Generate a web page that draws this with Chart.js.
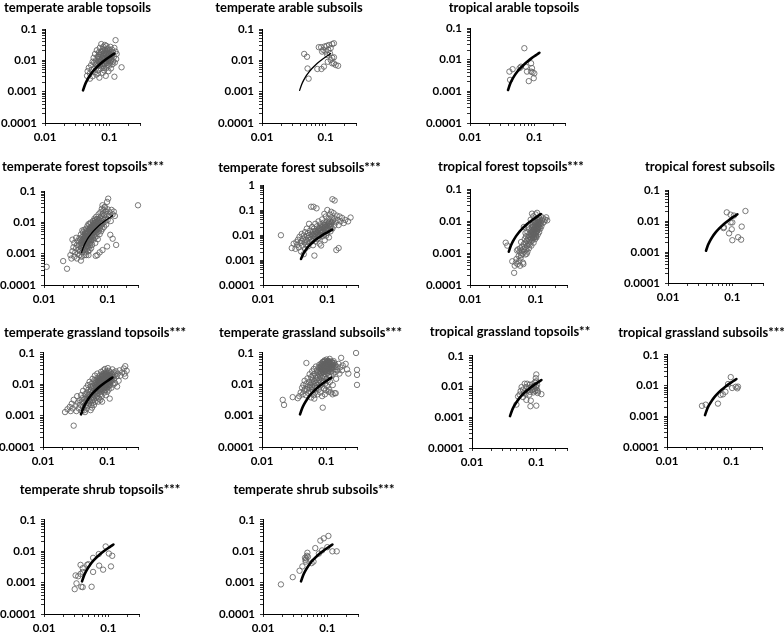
<!DOCTYPE html>
<html><head><meta charset="utf-8">
<script src="https://cdn.jsdelivr.net/npm/chart.js@4.4.0/dist/chart.umd.min.js"></script>
<style>
html,body{margin:0;padding:0;background:#fff;overflow:hidden;width:784px;height:637px;}
#wrap{position:relative;width:784px;height:637px;overflow:hidden;background:#fff;}
#wrap canvas{position:absolute;}
</style></head><body><div id="wrap"></div>
<script>
// ---------- data (x, y) ----------
const tempArableTop = [[.045,.0032],[.046,.0045],[.048,.0058],[.05,.0026],[.05,.0038],[.052,.007],[.053,.0049],[.055,.0031],[.055,.009],[.057,.012],[.058,.0055],[.06,.0042],[.06,.016],[.061,.0075],[.062,.01],[.063,.0035],[.064,.021],[.065,.0065],[.066,.013],[.067,.0048],[.068,.0095],[.069,.018],[.07,.0028],[.07,.011],[.071,.025],[.072,.0072],[.073,.015],[.074,.0055],[.075,.033],[.076,.0088],[.077,.012],[.078,.02],[.079,.004],[.08,.0065],[.08,.014],[.081,.027],[.082,.0105],[.083,.0048],[.084,.017],[.085,.0078],[.086,.022],[.087,.012],[.088,.0032],[.089,.0093],[.09,.015],[.09,.029],[.091,.0058],[.092,.011],[.093,.019],[.094,.0072],[.095,.0135],[.096,.024],[.097,.0045],[.098,.0098],[.099,.016],[.1,.021],[.1,.0068],[.102,.012],[.103,.0085],[.104,.027],[.105,.0175],[.106,.0055],[.108,.0105],[.11,.014],[.11,.022],[.112,.0075],[.114,.018],[.115,.0092],[.118,.013],[.12,.025],[.12,.003],[.122,.0085],[.125,.019],[.125,.044],[.128,.011],[.13,.016],[.155,.006],[.058,.0085],[.066,.0038],[.085,.031],
[.065,.0082],[.068,.0125],[.071,.0068],[.073,.0098],[.075,.0145],[.077,.0075],[.079,.0112],[.081,.0165],[.082,.0078],[.084,.0125],[.086,.0092],[.088,.0155],[.089,.0115],[.091,.0082],[.092,.0175],[.094,.0125],[.096,.0095],[.097,.0148],[.099,.011],[.101,.0165],[.103,.0125],[.105,.0092],[.107,.0145],[.069,.0155],[.074,.0185],[.079,.0225],[.087,.0198],[.093,.0225],[.072,.0088],[.083,.0058]];
const tempArableSub = [[.046,.016],[.051,.013],[.052,.0055],[.054,.0026],[.074,.0053],[.086,.0053],[.094,.0063],[.108,.009],[.12,.0103],[.127,.008],[.135,.008],[.144,.0071],[.157,.0067],[.135,.0125],[.127,.012],[.078,.0263],[.085,.0263],[.092,.0215],[.096,.0276],[.104,.029],[.113,.031],[.12,.0245],[.127,.033],[.135,.035],[.11,.0215],[.1,.019],[.088,.019],[.117,.0168],[.106,.015]];
const tropArableTop = [[.07,.023],[.041,.0042],[.046,.005],[.042,.0023],[.059,.0054],[.062,.006],[.074,.006],[.077,.0042],[.089,.0077],[.092,.0054],[.089,.0042],[.094,.004],[.098,.0026],[.082,.0021],[.1,.0037]];
const tempForestTop = [[.026,.0009],[.027,.0007],[.028,.0028],[.028,.0012],[.029,.0016],[.03,.0008],[.03,.0022],[.031,.0011],[.032,.0032],[.032,.0015],[.033,.0007],[.033,.0019],[.034,.0025],[.034,.001],[.035,.0013],
[.036,.0018],[.036,.0009],[.037,.0028],[.037,.0012],[.038,.0021],[.038,.0041],[.039,.0015],[.039,.0008],[.04,.0026],[.04,.0034],[.04,.0011],[.041,.0019],[.041,.0048],[.042,.0013],[.042,.0024],[.042,.0031],[.043,.0009],[.043,.0017],[.043,.0058],[.044,.0022],[.044,.0037],[.044,.0014],[.045,.0028],[.045,.0045],[.045,.0011],[.036,.0031],[.038,.0006],[.04,.0055],[.041,.0016],[.043,.0027],
[.046,.0019],[.046,.0033],[.046,.0062],[.047,.0014],[.047,.0025],[.047,.0041],[.048,.0029],[.048,.0017],[.048,.0075],[.049,.0036],[.049,.0022],[.049,.0012],[.05,.0048],[.05,.0027],[.05,.0016],[.05,.0088],[.051,.0033],[.051,.0021],[.051,.0057],[.052,.0039],[.052,.0013],[.052,.0026],[.053,.0068],[.053,.0045],[.053,.0019],[.054,.0031],[.054,.0098],[.054,.0024],[.055,.0052],[.055,.0036],[.055,.0015],[.048,.0048],[.052,.0085],[.05,.0009],[.046,.0009],
[.056,.0042],[.056,.0027],[.057,.0072],[.057,.0019],[.058,.0058],[.058,.0035],[.059,.011],[.059,.0046],[.06,.0028],[.06,.0065],[.061,.0082],[.061,.0039],[.062,.0052],[.062,.013],[.063,.0033],[.063,.0095],[.064,.0061],[.064,.0022],[.065,.0075],[.065,.0044],[.066,.015],[.066,.0056],[.067,.0105],[.067,.0036],[.068,.0068],[.068,.0088],[.069,.0048],[.069,.0125],[.07,.0062],[.07,.0029],
[.071,.0095],[.072,.0073],[.072,.018],[.073,.0055],[.074,.012],[.074,.0085],[.075,.0042],[.076,.014],[.076,.0065],[.077,.021],[.078,.0098],[.078,.0078],[.079,.0052],[.08,.016],[.08,.011],[.081,.027],[.082,.0088],[.083,.013],[.083,.0062],[.084,.019],[.085,.0095],[.086,.024],[.087,.012],[.088,.0072],[.089,.017],
[.09,.031],[.091,.0105],[.093,.014],[.094,.022],[.095,.0085],[.097,.018],[.098,.045],[.1,.012],[.1,.026],[.102,.057],[.105,.016],[.108,.021],[.112,.011],[.115,.025],[.12,.018],[.125,.022],[.13,.016],
[.3,.035],[.011,.00038],[.02,.00058],[.023,.00033],[.083,.035],[.09,.03],[.136,.0019],[.12,.003],[.098,.0017],[.083,.0013],[.069,.0009],[.11,.004],[.065,.00085],[.075,.0011],
[.038,.0016],[.039,.0025],[.04,.0019],[.041,.0029],[.042,.0021],[.042,.0038],[.043,.0023],[.044,.0031],[.044,.0045],[.045,.0021],[.045,.0035],[.046,.0026],[.046,.0042],[.047,.0031],[.047,.0052],[.048,.0024],[.048,.0038],[.049,.0045],[.049,.0029],[.05,.0034],[.05,.0058],[.051,.0041],[.051,.0027],[.052,.0049],[.052,.0033],[.053,.0056],[.053,.0038],[.054,.0042],[.054,.0065],[.055,.0047],[.055,.0028],[.056,.0058],[.056,.0075],[.057,.0051],[.057,.0038],[.058,.0068],[.058,.0085],[.059,.0055],[.06,.0048],[.06,.0095],[.061,.0066],[.062,.0078],[.063,.0058],[.063,.0115],[.064,.0082],[.065,.0098],[.066,.0072],[.067,.0125],[.068,.0092],[.07,.0108]];
const tempForestSub = [[.019,.0098],[.028,.003],[.03,.0045],[.032,.0028],[.033,.0052],[.034,.004],[.035,.0065],[.036,.0032],[.037,.0085],[.038,.0048],[.039,.0022],[.04,.0058],[.04,.011],[.041,.0038],[.042,.0072],[.043,.0017],[.043,.0095],[.044,.0051],[.045,.0028],[.045,.013],[.046,.0064],[.047,.0042],[.048,.0089],[.048,.018],[.049,.0055],[.05,.0035],[.05,.012],[.051,.0076],[.052,.0098],[.052,.028],[.053,.0047],[.054,.015],[.055,.0066],[.055,.0082],[.056,.135],[.057,.011],[.058,.0058],[.058,.021],[.059,.0093],[.06,.0039],[.06,.014],[.061,.135],[.062,.0072],[.062,.018],[.063,.0015],[.064,.011],[.065,.0085],[.065,.028],[.066,.0055],[.067,.013],[.068,.117],[.068,.0095],[.069,.022],[.07,.0068],[.071,.016],[.072,.011],[.073,.035],[.074,.0078],[.075,.014],[.076,.0045],[.077,.019],[.078,.0098],[.079,.027],[.08,.012],[.08,.0038],[.082,.016],[.083,.042],[.084,.0088],[.085,.022],[.086,.013],[.088,.031],[.089,.0105],[.09,.018],[.091,.0062],[.092,.025],[.093,.014],[.095,.055],[.096,.0095],[.097,.019],[.098,.034],[.1,.1],[.1,.012],[.102,.028],[.103,.016],[.105,.045],[.106,.008],[.108,.022],[.11,.065],[.11,.035],[.112,.014],[.115,.028],[.117,.05],[.12,.27],[.12,.018],[.122,.038],[.125,.075],[.128,.024],[.13,.24],[.13,.045],[.135,.032],[.138,.0025],[.14,.06],[.145,.04],[.15,.003],[.15,.025],[.155,.055],[.16,.035],[.17,.048],[.18,.03],[.19,.04],[.21,.035],[.23,.05],[.115,.085],[.09,.07],
[.06,.0105],[.063,.0088],[.066,.0145],[.069,.012],[.071,.0098],[.074,.018],[.076,.013],[.079,.0155],[.081,.0215],[.084,.0125],[.087,.018],[.09,.026],[.093,.021],[.096,.015],[.099,.024],[.102,.019],[.106,.031],[.109,.026],[.113,.022],[.118,.032]];
const tropForestTop = [[.035,.0021],[.037,.0017],[.044,.00055],[.047,.00024],[.048,.0004],[.05,.0005],[.051,.00065],[.052,.0012],[.053,.00045],[.054,.0013],[.055,.0008],[.056,.00055],[.057,.0011],[.058,.0014],[.059,.0007],[.06,.00085],[.06,.0022],[.061,.0012],[.062,.0016],[.063,.00095],[.064,.0005],[.065,.0013],[.066,.0019],[.066,.0065],[.067,.0011],[.068,.0027],[.069,.0015],[.07,.0009],[.07,.0021],[.071,.0033],[.072,.0013],[.073,.0024],[.074,.0017],[.075,.0045],[.075,.0011],[.076,.0028],[.077,.0019],[.078,.0036],[.079,.0014],[.08,.0055],[.08,.0025],[.081,.0018],[.082,.0032],[.083,.0022],[.084,.0042],[.084,.011],[.085,.0028],[.086,.0017],[.087,.0065],[.088,.0035],[.089,.0025],[.09,.0048],[.09,.0075],[.091,.0029],[.092,.0038],[.093,.0021],[.094,.0055],[.095,.0095],[.095,.0031],[.096,.0045],[.097,.0068],[.098,.0027],[.099,.0036],[.1,.0058],[.1,.016],[.101,.0042],[.102,.0082],[.103,.0031],[.104,.0062],[.105,.0048],[.106,.011],[.107,.0072],[.108,.0038],[.109,.0055],[.11,.0095],[.111,.0065],[.112,.013],[.113,.0045],[.115,.0078],[.116,.011],[.118,.0058],[.12,.0088],[.12,.014],[.122,.0068],[.125,.0105],[.128,.0085],[.13,.012],[.135,.0095],[.14,.011],[.145,.013],[.15,.0105],[.088,.017],[.078,.0062],[.07,.0042],[.092,.014],[.105,.018],[.065,.00045],[.073,.00095],[.058,.0004],
[.085,.0038],[.086,.0052],[.087,.0029],[.088,.0045],[.089,.0062],[.09,.0035],[.091,.0052],[.092,.0068],[.093,.0042],[.094,.0031],[.095,.0058],[.096,.0075],[.097,.0039],[.098,.0052],[.099,.0085],[.1,.0045],[.1,.0068],[.101,.0032],[.102,.0058],[.103,.0095],[.104,.0048],[.105,.0072],[.106,.0058],[.107,.0088],[.108,.0065],[.109,.0105],[.11,.0078],[.112,.0088],[.114,.0065],[.116,.0095]];
const tropForestSub = [[.082,.019],[.16,.021],[.094,.016],[.106,.015],[.094,.009],[.1,.009],[.074,.0063],[.073,.0059],[.098,.0054],[.089,.004],[.14,.0066],[.1,.0024],[.123,.003],[.137,.0025]];
const tempGrassTop = [[.022,.0013],[.024,.0016],[.026,.0019],[.027,.0014],[.028,.0024],[.029,.0017],[.03,.0032],[.03,.00048],[.032,.0021],[.033,.0014],[.034,.0042],[.035,.0026],
[.036,.0017],[.037,.0031],[.038,.0022],[.039,.0045],[.04,.0014],[.04,.0028],[.041,.0036],[.042,.0019],[.042,.0062],[.043,.0025],[.044,.0033],[.044,.0015],[.045,.0048],[.046,.0029],[.046,.0021],[.047,.0078],[.047,.0038],[.048,.0017],[.048,.0055],[.049,.0026],[.049,.0035],[.05,.0045],[.05,.0095],[.05,.0021],[.045,.0013],
[.051,.0032],[.051,.0068],[.052,.0025],[.052,.0048],[.053,.0039],[.053,.012],[.054,.0058],[.054,.0029],[.055,.0085],[.055,.0036],[.056,.0022],[.056,.0065],[.057,.0045],[.057,.0105],[.058,.0031],[.058,.0075],[.059,.0052],[.059,.015],[.06,.0038],[.06,.0088],[.06,.0026],[.061,.0062],[.061,.0115],[.062,.0045],[.062,.0033],[.063,.0078],[.063,.0135],[.064,.0055],[.064,.0042],[.064,.019],[.065,.0095],[.065,.0028],[.058,.0018],[.062,.0022],[.055,.0015],
[.066,.0068],[.066,.0115],[.067,.0048],[.067,.0085],[.068,.0037],[.068,.014],[.069,.0058],[.069,.0098],[.07,.0075],[.07,.022],[.07,.0042],[.071,.0125],[.071,.0062],[.072,.0088],[.072,.0165],[.073,.0052],[.073,.0105],[.074,.0035],[.074,.0072],[.075,.013],[.075,.0095],[.076,.0062],[.076,.019],[.077,.0082],[.077,.0115],[.078,.0048],[.078,.015],[.079,.0098],[.079,.0068],[.08,.025],[.08,.0125],[.08,.0058],[.081,.0088],[.081,.0175],[.082,.0105],[.082,.0042],[.083,.014],[.083,.0075],[.084,.021],[.084,.0098],[.085,.0065],[.085,.012],[.072,.0028],[.078,.0032],[.083,.0028],
[.086,.016],[.086,.0085],[.087,.011],[.087,.028],[.088,.0072],[.088,.0135],[.089,.019],[.089,.0095],[.09,.0055],[.09,.012],[.09,.023],[.091,.0082],[.091,.015],[.092,.0105],[.092,.031],[.093,.0065],[.093,.0175],[.094,.0125],[.094,.0088],[.095,.021],[.095,.0045],[.096,.014],[.096,.0098],[.097,.026],[.097,.0115],[.098,.0075],[.098,.017],[.099,.013],[.1,.0095],[.1,.022],[.1,.0058],[.101,.015],[.102,.0115],[.102,.033],[.103,.0085],[.104,.019],[.104,.013],[.105,.0068],[.106,.016],[.106,.027],[.107,.0105],[.108,.014],[.109,.0035],[.11,.018],[.11,.0092],
[.112,.024],[.113,.0125],[.115,.016],[.116,.0078],[.118,.021],[.12,.013],[.12,.03],[.122,.0175],[.125,.0098],[.126,.024],[.128,.015],[.13,.02],[.132,.011],[.135,.026],[.14,.018],[.142,.0085],[.145,.022],[.15,.013],[.155,.028],[.16,.019],[.17,.024],[.18,.032],[.185,.022],[.19,.038],[.2,.027],[.19,.018],
[.07,.0105],[.071,.0085],[.072,.0125],[.073,.0075],[.074,.0115],[.075,.0088],[.075,.0155],[.076,.0105],[.077,.0068],[.077,.0135],[.078,.0115],[.079,.0088],[.08,.0145],[.08,.0098],[.081,.0072],[.082,.0125],[.082,.0185],[.083,.0105],[.084,.0082],[.084,.0148],[.085,.0115],[.086,.0178],[.086,.0098],[.087,.0135],[.088,.0088],[.088,.0208],[.089,.0118],[.09,.0152],[.09,.0078],[.091,.0128],[.092,.0185],[.092,.0092],[.093,.0142],[.094,.0108],[.094,.0225],[.095,.0125],[.096,.0165],[.096,.0082],[.097,.0138],[.098,.0112],[.098,.0195],[.099,.0155],[.1,.0122],[.1,.0175],[.101,.0098],[.102,.0142],[.103,.0205],[.104,.0115],[.105,.0158],[.106,.0128],[.107,.0185],[.108,.0098],[.109,.0145],[.11,.0122],[.111,.0205],[.113,.0158],[.115,.0135],[.117,.0182],[.065,.0058],[.068,.0078]];
const tempGrassSub = [[.021,.0032],[.022,.0022],[.03,.0039],[.036,.0036],[.038,.0042],[.04,.0055],[.042,.0078],[.043,.0048],[.044,.0095],[.045,.0062],[.046,.013],[.047,.0072],[.048,.0045],[.049,.048],[.049,.0105],[.05,.0068],[.051,.0155],[.052,.0085],[.053,.0052],[.054,.012],[.055,.0075],[.055,.021],[.056,.0095],[.057,.0058],[.058,.017],[.058,.0038],[.059,.011],[.06,.026],[.06,.0082],[.061,.014],[.062,.0065],[.062,.019],[.063,.0105],[.064,.0045],[.064,.031],[.065,.0125],[.066,.0088],[.066,.022],[.067,.0055],[.068,.016],[.068,.011],[.069,.037],[.07,.0075],[.07,.019],[.071,.0135],[.072,.028],[.072,.0095],[.073,.0048],[.074,.0165],[.074,.024],[.075,.0112],[.076,.034],[.076,.0068],[.077,.021],[.078,.014],[.078,.042],[.079,.0085],[.08,.027],[.08,.018],[.081,.0055],[.082,.031],[.082,.012],[.083,.046],[.084,.022],[.084,.0098],[.085,.036],[.086,.016],[.086,.0042],[.087,.028],[.088,.0018],[.088,.052],[.089,.019],[.09,.039],[.09,.0125],[.091,.024],[.092,.045],[.092,.0075],[.093,.032],[.094,.017],[.094,.058],[.095,.026],[.096,.041],[.096,.0105],[.097,.021],[.098,.035],[.098,.0065],[.099,.048],[.1,.028],[.1,.015],[.101,.062],[.102,.038],[.102,.0088],[.103,.023],[.104,.044],[.104,.032],[.105,.0135],[.106,.055],[.107,.027],[.108,.036],[.108,.0058],[.109,.049],[.11,.019],[.11,.041],[.112,.031],[.113,.065],[.114,.012],[.115,.038],[.116,.025],[.118,.046],[.118,.0055],[.12,.033],[.12,.018],[.122,.052],[.124,.028],[.125,.04],[.126,.0095],[.128,.022],[.13,.035],[.132,.048],[.135,.03],[.135,.0052],[.138,.042],[.14,.025],[.142,.015],[.145,.036],[.15,.028],[.155,.045],[.16,.022],[.165,.035],[.17,.07],[.175,.028],[.18,.04],[.2,.045],[.21,.03],[.22,.022],[.29,.1],[.3,.029],[.3,.02],[.3,.0096],[.065,.0035],[.095,.0048],[.125,.0048],[.14,.0052],[.11,.0068],
[.08,.035],[.082,.024],[.083,.039],[.085,.029],[.086,.045],[.087,.034],[.088,.025],[.089,.041],[.09,.031],[.091,.052],[.092,.036],[.093,.027],[.094,.044],[.095,.034],[.096,.056],[.097,.038],[.098,.029],[.099,.042],[.1,.051],[.1,.034],[.101,.025],[.102,.046],[.103,.037],[.104,.055],[.105,.031],[.106,.042],[.107,.048],[.108,.028],[.109,.039],[.11,.052],[.111,.034],[.112,.045],[.114,.038],[.116,.055],[.118,.032],[.12,.043],[.122,.036],[.125,.048],[.128,.041],[.13,.055]];
const tropGrassTop = [[.049,.0026],[.052,.0048],[.055,.0055],[.057,.0072],[.059,.0097],[.062,.008],[.062,.0046],[.064,.0062],[.066,.0125],[.068,.0058],[.07,.0037],[.07,.0098],[.072,.0125],[.074,.0075],[.076,.0088],[.078,.0055],[.079,.0115],[.08,.0068],[.082,.0035],[.081,.0023],[.084,.0097],[.085,.0078],[.087,.012],[.089,.008],[.09,.0065],[.092,.0105],[.094,.0085],[.095,.014],[.096,.0072],[.098,.019],[.1,.025],[.1,.015],[.1,.0024],[.1,.0095],[.102,.0078],[.103,.0115],[.105,.0062],[.106,.007],[.12,.0057],[.098,.0105]];
const tropGrassSub = [[.035,.0022],[.04,.0024],[.062,.0026],[.068,.005],[.074,.0052],[.081,.0063],[.089,.0113],[.098,.019],[.103,.0084],[.117,.0092],[.124,.0082],[.127,.0093]];
const tempShrubTop = [[.091,.0143],[.071,.0082],[.102,.0085],[.115,.0072],[.058,.0062],[.049,.0039],[.047,.0037],[.037,.0037],[.04,.0029],[.072,.0035],[.083,.0026],[.11,.0033],[.058,.0022],[.031,.0017],[.034,.0016],[.037,.0019],[.04,.0022],[.032,.00095],[.038,.00074],[.04,.00072],[.03,.00062],[.055,.00074]];
const tempShrubSub = [[.019,.00088],[.029,.0015],[.037,.0024],[.041,.0033],[.046,.0053],[.047,.0059],[.048,.0072],[.049,.009],[.046,.0047],[.05,.0067],[.045,.0062],[.057,.0042],[.061,.0047],[.065,.0127],[.078,.022],[.088,.026],[.104,.031],[.083,.0107],[.1,.0136],[.12,.01],[.14,.01],[.074,.0085]];

// fitted curve drawn in every panel
const curveX = [0.039, 0.042, 0.045, 0.05, 0.055, 0.06, 0.07, 0.08, 0.09, 0.1, 0.11, 0.12];
const curveY = [0.0011, 0.0017, 0.0023, 0.0033, 0.0043, 0.0053, 0.0072, 0.0091, 0.011, 0.0128, 0.0146, 0.0165];

// tick labels
const xTickValues = [0.01, 0.1];
const xTickLabels = ['0.01', '0.1'];
const yTickValues = [0.0001, 0.001, 0.01, 0.1];
const yTickLabels = ['0.0001', '0.001', '0.01', '0.1'];
const yTickValuesWide = [0.0001, 0.001, 0.01, 0.1, 1];
const yTickLabelsWide = ['0.0001', '0.001', '0.01', '0.1', '1'];

const titles = ['temperate arable topsoils','temperate arable subsoils','tropical arable topsoils',
  'temperate forest topsoils***','temperate forest subsoils***','tropical forest topsoils***','tropical forest subsoils',
  'temperate grassland topsoils***','temperate grassland subsoils***','tropical grassland topsoils**','tropical grassland subsoils***',
  'temperate shrub topsoils***','temperate shrub subsoils***'];
const series = [tempArableTop,tempArableSub,tropArableTop,tempForestTop,tempForestSub,tropForestTop,tropForestSub,
  tempGrassTop,tempGrassSub,tropGrassTop,tropGrassSub,tempShrubTop,tempShrubSub];

// layout (pixels): title centre, y-axis x, plot top/bottom, plot right, curve width, wide y range
const layout = [
  {cx:77, cy:8, ax:45, top:29, bot:123, right:140, lw:2.6},
  {cx:289, cy:8, ax:262, top:29, bot:123, right:356, lw:1.3},
  {cx:514, cy:8, ax:470, top:28, bot:123, right:565, lw:2.6},
  {cx:83, cy:167, ax:44, top:191, bot:285, right:138, lw:1.3},
  {cx:299, cy:168, ax:263, top:185, bot:285, right:358, lw:2.6, wide:true},
  {cx:511, cy:167, ax:470, top:189, bot:285, right:567, lw:2.6},
  {cx:710, cy:167, ax:668, top:190, bot:283, right:763, lw:2.6},
  {cx:95, cy:333, ax:43, top:353, bot:447, right:138, lw:2.6},
  {cx:310, cy:333, ax:262, top:353, bot:447, right:357, lw:2.6},
  {cx:510, cy:332, ax:472, top:356, bot:448, right:567, lw:2.6},
  {cx:701, cy:333, ax:667, top:355, bot:447, right:762, lw:2.6},
  {cx:100, cy:490, ax:44, top:520, bot:614, right:139, lw:2.6},
  {cx:314, cy:490, ax:263, top:520, bot:614, right:358, lw:2.6}
];

const TITLE_FONT = {family:'Lato', size:13, weight:'bold', lineHeight:1.2};
const TICK_FONT = {family:'Lato', size:11.5, weight:'bold'};

function logTicks(min, max) {
  const out = [];
  for (let d = min; d <= max * 1.0001; d *= 10) {
    for (let k = 1; k <= 9; k++) { const v = k * d; if (v <= max * 1.0001) out.push(v); }
  }
  return out;
}
function labelFor(vals, labels) {
  return function(value) {
    for (let i = 0; i < vals.length; i++) if (Math.abs(value / vals[i] - 1) < 1e-6) return labels[i];
    return '';
  };
}

const mctx = document.createElement('canvas').getContext('2d');
mctx.font = 'bold 13px Lato';

const wrap = document.getElementById('wrap');
layout.forEach((p, i) => {
  const tw = mctx.measureText(titles[i]).width;
  const half = Math.max(p.cx - (p.ax - 44), p.right + 6 - p.cx, tw / 2 + 4);
  const L = Math.round(p.cx - half), W = Math.round(2 * half);
  const T = p.cy - 7.8;
  const Ti = Math.floor(T);
  const padB = p.top - (Ti + 15.6 + (T - Ti));
  const H = Math.round(p.bot - Ti + 24);
  const yW = p.ax - L, rW = L + W - p.right;
  const cv = document.createElement('canvas');
  cv.width = W; cv.height = H;
  cv.style.left = L + 'px'; cv.style.top = Ti + 'px';
  cv.style.width = W + 'px'; cv.style.height = H + 'px';
  wrap.appendChild(cv);
  const ymax = p.wide ? 1 : 0.1;
  const yv = p.wide ? yTickValuesWide : yTickValues;
  const yl = p.wide ? yTickLabelsWide : yTickLabels;
  new Chart(cv, {
    type: 'scatter',
    data: {datasets: [
      {data: curveX.map((x, k) => ({x: x, y: curveY[k]})), showLine: true, borderColor: '#000', borderWidth: p.lw,
       pointRadius: 0, fill: false, tension: 0.2, borderCapStyle: 'round', clip: false},
      {data: series[i].map(a => ({x: a[0], y: a[1]})), showLine: false, pointRadius: 2.7, pointStyle: 'circle',
       pointBorderColor: '#626262', pointBackgroundColor: 'rgba(0,0,0,0)', pointBorderWidth: 0.85, clip: false}
    ]},
    options: {
      responsive: false, animation: false, devicePixelRatio: 1,
      layout: {padding: 0},
      plugins: {
        legend: {display: false}, tooltip: {enabled: false},
        title: {display: true, text: titles[i], align: 'center', color: '#000', font: TITLE_FONT,
                padding: {top: T - Ti, bottom: padB}}
      },
      scales: {
        x: {type: 'logarithmic', position: 'bottom', min: 0.01, max: 0.3,
            afterBuildTicks: s => { s.ticks = logTicks(0.01, 0.3).map(v => ({value: v})); },
            afterFit: s => { s.height = 24; },
            grid: {display: true, drawOnChartArea: false, drawTicks: true, tickLength: 3, color: '#333', lineWidth: 1},
            border: {display: true, color: '#000', width: 1},
            ticks: {autoSkip: false, maxRotation: 0, minRotation: 0, color: '#000', font: TICK_FONT, padding: 4,
                    callback: labelFor(xTickValues, xTickLabels)}},
        y: {type: 'logarithmic', position: 'left', min: 0.0001, max: ymax,
            afterBuildTicks: s => { s.ticks = logTicks(0.0001, ymax).map(v => ({value: v})); },
            afterFit: s => { s.width = yW; },
            grid: {display: true, drawOnChartArea: false, drawTicks: true, tickLength: 3, color: '#333', lineWidth: 1},
            border: {display: true, color: '#000', width: 1},
            ticks: {autoSkip: false, color: '#000', font: TICK_FONT, padding: 5,
                    callback: labelFor(yv, yl)}},
        yr: {type: 'linear', position: 'right', display: true,
             grid: {display: false}, ticks: {display: false}, border: {display: false},
             afterFit: s => { s.width = rW; }}
      }
    }
  });
});
</script>
</body></html>
